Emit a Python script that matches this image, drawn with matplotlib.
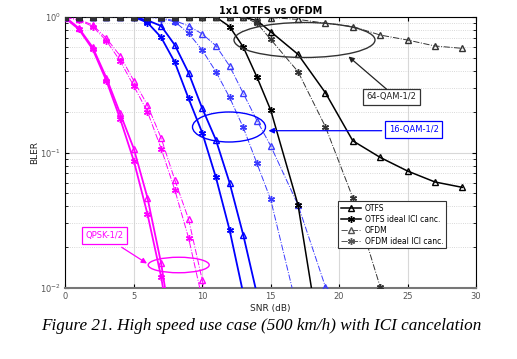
import numpy as np
import matplotlib
matplotlib.use("Agg")
import matplotlib.pyplot as plt
from matplotlib.patches import Ellipse
from matplotlib.lines import Line2D

# SNR grid used in the simulation: 0..15 then odd steps
snr = [0, 1, 2, 3, 4, 5, 6, 7, 8, 9, 10, 11, 12, 13, 14, 15, 17, 19, 21, 23, 25, 27, 29]

# QPSK-1/2 (magenta)
qpsk_otfs = [1.0, 0.825, 0.597, 0.356, 0.195, 0.107, 0.0464, 0.0152, 0.0035]
qpsk_otfs_ici = [0.98, 0.81, 0.578, 0.339, 0.178, 0.087, 0.0352, 0.0121, 0.003]
qpsk_ofdm = [0.99, 0.96, 0.873, 0.696, 0.518, 0.339, 0.224, 0.128, 0.0627, 0.0323, 0.0115, 0.004]
qpsk_ofdm_ici = [0.99, 0.95, 0.85, 0.668, 0.476, 0.31, 0.2, 0.107, 0.0529, 0.0235, 0.0083]

# 16-QAM-1/2 (blue)
qam16_otfs = [1.0, 1.0, 1.0, 1.0, 1.0, 1.0, 0.945, 0.859, 0.621, 0.388, 0.212, 0.124, 0.0598, 0.0246, 0.009]
qam16_otfs_ici = [1.0, 1.0, 1.0, 1.0, 1.0, 1.0, 0.91, 0.708, 0.463, 0.251, 0.14, 0.0656, 0.0268, 0.0091]
qam16_ofdm = [1.0, 1.0, 1.0, 1.0, 1.0, 1.0, 1.0, 0.98, 0.94, 0.86, 0.75, 0.614, 0.435, 0.273, 0.172,
              0.112, 0.041, 0.0102, 0.002]
qam16_ofdm_ici = [1.0, 1.0, 1.0, 1.0, 1.0, 1.0, 1.0, 0.97, 0.923, 0.76, 0.57, 0.395, 0.255, 0.153, 0.083,
                  0.045, 0.0066]

# 64-QAM-1/2 (black)
qam64_otfs = [1.0] * 14 + [0.94, 0.78, 0.53, 0.276, 0.122, 0.092, 0.073, 0.0606, 0.0553]
qam64_otfs_ici = [1.0] * 12 + [0.85, 0.6, 0.36, 0.206, 0.041, 0.0023]
qam64_ofdm = [1.0] * 15 + [0.99, 0.96, 0.9, 0.85, 0.736, 0.676, 0.611, 0.587]
qam64_ofdm_ici = [1.0] * 14 + [0.9, 0.684, 0.395, 0.155, 0.0464, 0.0102, 0.002]

W, H = 517, 359
fig = plt.figure(figsize=(W / 100, H / 100), dpi=100)
# axes box in pixels: x 65..476, y 17..288
L, R, T, B = 65.3, 476.0, 17.0, 288.0
ax = fig.add_axes([L / W, 1 - B / H, (R - L) / W, (B - T) / H])


def ax_pt(px, py):
    # pixel position -> axes fraction
    return ((px - L) / (R - L), (B - py) / (B - T))


star = (6, 2, 0)
solid_lw, dash_lw = 1.3, 0.7
ms = 5


def curve(y, color, ls, lw, marker):
    x = snr[:len(y)]
    ax.plot(x, y, color=color, ls=ls, lw=lw, marker=marker, ms=ms,
            mfc='none', mec=color, mew=1.0, clip_on=True, zorder=3)


mag = '#ff00ff'
blu = '#0000ff'
blk = '#000000'

curve(qpsk_otfs, mag, '-', solid_lw, '^')
curve(qpsk_otfs_ici, mag, '-', solid_lw, star)
curve(qpsk_ofdm, mag, '-.', dash_lw, '^')
curve(qpsk_ofdm_ici, mag, '-.', dash_lw, star)

curve(qam16_otfs, blu, '-', solid_lw, '^')
curve(qam16_otfs_ici, blu, '-', solid_lw, star)
curve(qam16_ofdm, '#3a3aff', '-.', dash_lw, '^')
curve(qam16_ofdm_ici, '#3a3aff', '-.', dash_lw, star)

curve(qam64_otfs, blk, '-', 1.1, '^')
curve(qam64_otfs_ici, blk, '-', 1.1, star)
curve(qam64_ofdm, '#333333', '-.', dash_lw, '^')
curve(qam64_ofdm_ici, '#333333', '-.', dash_lw, star)

ax.set_yscale('log')
ax.set_xlim(0, 30)
ax.set_ylim(1e-2, 1)
ax.set_xticks([0, 5, 10, 15, 20, 25, 30])
ax.set_yticks([1e-2, 1e-1, 1])
ax.grid(True, which='major', color='#d8d8d8', lw=0.8, ls='-')
ax.grid(True, which='minor', axis='y', color='#cccccc', lw=0.6, ls=':')
ax.set_axisbelow(True)
ax.tick_params(which='both', direction='in', top=True, right=True,
               labelsize=6, labelcolor='#555555', pad=3)
ax.tick_params(which='major', length=3)
ax.tick_params(which='minor', length=2)
for s in ax.spines.values():
    s.set_linewidth(0.8)
ax.spines['bottom'].set_color('#777777')
ax.spines['bottom'].set_linewidth(1.5)

ax.set_title('1x1 OTFS vs OFDM', fontsize=7, fontweight='bold', pad=2)
ax.set_xlabel('SNR (dB)', fontsize=6.5, color='#222222', labelpad=2)
ax.set_ylabel('BLER', fontsize=6.5, color='#222222', labelpad=1)

# annotations: ellipses, boxes and arrows
def ellipse(cx, cy, w, h, color):
    x, y = ax_pt(cx, cy)
    e = Ellipse((x, y), w / (R - L), h / (B - T), transform=ax.transAxes,
                fill=False, edgecolor=color, lw=1.0, clip_on=False, zorder=5)
    ax.add_patch(e)


ellipse(304.5, 40, 141, 35, '#333333')
ellipse(229, 127, 73, 30, blu)
ellipse(178.7, 265, 61, 15.5, mag)

box_kw = dict(fontsize=6, ha='center', va='center', transform=ax.transAxes, zorder=6)
x, y = ax_pt(391.7, 97)
ax.text(x, y, '64-QAM-1/2', color='#222222',
        bbox=dict(boxstyle='square,pad=0.45', fc='white', ec='#333333', lw=0.9), **box_kw)
x, y = ax_pt(413.7, 129.5)
ax.text(x, y, '16-QAM-1/2', color=blu,
        bbox=dict(boxstyle='square,pad=0.45', fc='white', ec=blu, lw=0.9), **box_kw)
x, y = ax_pt(104.7, 235.5)
ax.text(x, y, 'QPSK-1/2', color=mag,
        bbox=dict(boxstyle='square,pad=0.45', fc='white', ec=mag, lw=0.9), **box_kw)


def arrow(p0, p1, color):
    ax.annotate('', xy=ax_pt(*p1), xytext=ax_pt(*p0), xycoords='axes fraction',
                textcoords='axes fraction', zorder=6,
                arrowprops=dict(arrowstyle='-|>', color=color, lw=0.9,
                                mutation_scale=8, shrinkA=0, shrinkB=0))


arrow((386.7, 89.3), (348.5, 56.5), '#222222')
arrow((381.7, 130.7), (268.5, 130.7), blu)
arrow((121.7, 247.3), (147.0, 263.5), mag)

handles = [
    Line2D([], [], color='k', ls='-', lw=1.1, marker='^', ms=ms, mfc='none', mew=1.0),
    Line2D([], [], color='k', ls='-', lw=1.1, marker=star, ms=ms, mew=1.0),
    Line2D([], [], color='#555555', ls='-.', lw=0.7, marker='^', ms=ms, mfc='none', mew=1.0),
    Line2D([], [], color='#555555', ls='-.', lw=0.7, marker=star, ms=ms, mew=1.0),
]
labels = ['OTFS', 'OTFS ideal ICI canc.', 'OFDM', 'OFDM ideal ICI canc.']
lx, ly = ax_pt(338.3, 248.3)
leg = ax.legend(handles, labels, loc='lower left', bbox_to_anchor=(lx, ly),
                fontsize=5.5, frameon=True, fancybox=False, framealpha=1,
                edgecolor='#333333', handlelength=2.6, handletextpad=0.5,
                borderpad=0.35, labelspacing=0.25, borderaxespad=0)
leg.get_frame().set_linewidth(0.8)
leg.set_zorder(7)

fig.text(260.9 / W, 1 - 325.7 / H,
         'Figure 21. High speed use case (500 km/h) with ICI cancelation',
         ha='center', va='center', fontsize=12.3, style='italic',
         family='Liberation Serif')

fig.savefig('out.png', dpi=100)
